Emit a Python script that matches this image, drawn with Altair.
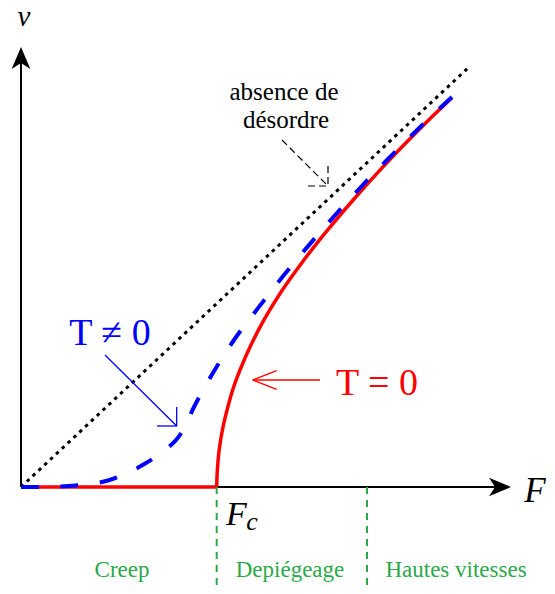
import altair as alt
import pandas as pd

# ---- plot area / scales (arbitrary units, F_c ~ 1.957) ----
W, H = 539, 578
F_DOMAIN = [-0.13, 5.26]
V_DOMAIN = [-0.99, 4.79]

# ---- curves ----
# T = 0 : v = 0 below F_c, then depinning branch
red_flat_F = [0.0, 1.957]
red_flat_v = [0.0, 0.0]
red_F = [1.957, 1.963, 1.983, 2.023, 2.057, 2.09, 2.123, 2.19, 2.29, 2.41, 2.49, 2.57,
         2.69, 2.82, 2.95, 3.08, 3.33, 3.59, 3.86, 4.12, 4.31]
red_v = [0.0, 0.16, 0.38, 0.615, 0.755, 0.88, 0.99, 1.17, 1.40, 1.636, 1.774, 1.903,
         2.079, 2.258, 2.427, 2.587, 2.88, 3.169, 3.452, 3.712, 3.893]

# T != 0 : creep
blue_F = [0.0, 0.19, 0.48, 0.87, 1.237, 1.545, 1.65, 1.735, 1.925, 2.13, 2.37, 2.61,
          2.86, 3.12, 3.39, 3.65, 3.92, 4.21, 4.31]
blue_v = [0.0, 0.0, 0.01, 0.065, 0.232, 0.463, 0.63, 0.81, 1.15, 1.47, 1.789, 2.094,
          2.396, 2.695, 2.99, 3.26, 3.53, 3.808, 3.90]

# absence de désordre (linear)
dot_F = [0.0, 4.47]
dot_v = [0.0, 4.19]

# ---- axes ----
axes_F = [0.0, 0.0]
axes_v = [0.0, 0.0]
axes_F2 = [4.79, 0.0]
axes_v2 = [0.0, 4.29]
head_F = [4.79, 0.0]
head_v = [0.0, 4.29]
head_dir = ["right", "up"]

# ---- regime separators ----
sep_F = [1.957, 3.46]
sep_top = [0.0, 0.0]
sep_bottom = [-0.99, -0.99]

# ---- annotation arrows (segments: F, v, F2, v2) ----
blk_F = [2.61, 2.87, 3.07]
blk_v = [3.47, 3.01, 3.21]
blk_F2 = [3.07, 3.07, 3.07]
blk_v2 = [3.01, 3.01, 3.01]

blu_F = [0.84, 1.36, 1.557]
blu_v = [1.32, 0.61, 0.80]
blu_F2 = [1.557, 1.557, 1.557]
blu_v2 = [0.61, 0.61, 0.61]

red_arr_F = [2.99, 2.557, 2.557]
red_arr_v = [1.07, 1.163, 0.977]
red_arr_F2 = [2.317, 2.317, 2.317]
red_arr_v2 = [1.07, 1.07, 1.07]

# ---- texts ----
reg_labels = ["Creep", "Depiégeage", "Hautes vitesses"]
reg_F = [1.01, 2.69, 4.35]
reg_v = [-0.90, -0.90, -0.90]

abs_labels = ["absence de", "désordre"]
abs_F = [2.63, 2.65]
abs_v = [3.87, 3.59]

GREEN = "#2aa84a"
SERIF = "Liberation Serif"

xs = alt.Scale(domain=F_DOMAIN, nice=False, zero=False)
ys = alt.Scale(domain=V_DOMAIN, nice=False, zero=False)
X = alt.X("F:Q", scale=xs, axis=None)
Y = alt.Y("v:Q", scale=ys, axis=None)


def df(**cols):
    return pd.DataFrame(cols)


def segs(F, v, F2, v2, **kw):
    return alt.Chart(df(F=F, v=v, F2=F2, v2=v2)).mark_rule(**kw).encode(
        x=X, y=Y, x2="F2:Q", y2="v2:Q")


def line(F, v, **kw):
    return alt.Chart(df(F=F, v=v, o=list(range(len(F))))).mark_line(**kw).encode(
        x=X, y=Y, order="o:Q")


def text(labels, F, v, **kw):
    return alt.Chart(df(F=F, v=v, t=labels)).mark_text(**kw).encode(
        x=X, y=Y, text="t:N")


axes = segs(axes_F, axes_v, axes_F2, axes_v2, color="black", strokeWidth=2)
heads_df = df(F=head_F, v=head_v, d=head_dir)
ARROW_R = "M 1 0 L -1 -0.85 L -0.45 0 L -1 0.85 Z"
ARROW_U = "M 0 -1 L 0.85 1 L 0 0.45 L -0.85 1 Z"
head_r = alt.Chart(heads_df).transform_filter("datum.d == 'right'").mark_point(
    shape=ARROW_R, filled=True, size=484, color="black", opacity=1, strokeWidth=0
).encode(x=X, y=Y)
head_u = alt.Chart(heads_df).transform_filter("datum.d == 'up'").mark_point(
    shape=ARROW_U, filled=True, size=484, color="black", opacity=1, strokeWidth=0
).encode(x=X, y=Y)

dotted = line(dot_F, dot_v, color="black", strokeWidth=3, strokeDash=[3.5, 4.5], strokeCap="butt")
red_flat = line(red_flat_F, red_flat_v, color="#ff0000", strokeWidth=3.5)
red_curve = line(red_F, red_v, color="#ff0000", strokeWidth=3.5, interpolate="catmull-rom")
blue_curve = line(blue_F, blue_v, color="#0000ff", strokeWidth=4, strokeDash=[18, 21.5],
                  strokeCap="butt", interpolate="catmull-rom")

sep = alt.Chart(df(F=sep_F, v=sep_top, v2=sep_bottom)).mark_rule(
    color=GREEN, strokeWidth=2, strokeDash=[7, 6]).encode(x=X, y=Y, y2="v2:Q")

blk_arrow = segs(blk_F, blk_v, blk_F2, blk_v2, color="black", strokeWidth=1.2, strokeDash=[7, 4])
blu_arrow = segs(blu_F, blu_v, blu_F2, blu_v2, color="#0000ff", strokeWidth=1.3)
red_arrow = segs(red_arr_F, red_arr_v, red_arr_F2, red_arr_v2, color="#ff0000", strokeWidth=1.3)

t_reg = text(reg_labels, reg_F, reg_v, font=SERIF, fontSize=23, color=GREEN,
             align="center", baseline="alphabetic")
t_abs = text(abs_labels, abs_F, abs_v, font=SERIF, fontSize=25, color="black",
             align="center", baseline="alphabetic")
t_tne = text(["T ≠ 0"], [0.89], [1.42], font=SERIF, fontSize=38, color="#0000ff",
             align="center", baseline="alphabetic")
t_teq = text(["T = 0"], [3.56], [0.92], font=SERIF, fontSize=38, color="#ff0000",
             align="center", baseline="alphabetic")
t_v = text(["v"], [0.03], [4.61], font=SERIF, fontSize=29, fontStyle="italic",
           color="black", align="center", baseline="alphabetic")
t_F = text(["F"], [5.14], [-0.15], font=SERIF, fontSize=35, fontStyle="italic",
           color="black", align="center", baseline="alphabetic")
t_Fc = text(["F"], [2.155], [-0.38], font=SERIF, fontSize=34, fontStyle="italic",
            color="black", align="center", baseline="alphabetic")
t_c = text(["c"], [2.31], [-0.43], font=SERIF, fontSize=26, fontStyle="italic",
           color="black", align="center", baseline="alphabetic")

chart = alt.layer(
    axes, head_r, head_u, dotted, red_flat, red_curve, blue_curve, sep,
    blk_arrow, blu_arrow, red_arrow,
    t_reg, t_abs, t_tne, t_teq, t_v, t_F, t_Fc, t_c,
).properties(
    width=W, height=H, padding=0, autosize=alt.AutoSizeParams(type="none")
).configure_view(strokeWidth=0)

chart.save("out.html", embed_options={"renderer": "svg", "actions": False})
